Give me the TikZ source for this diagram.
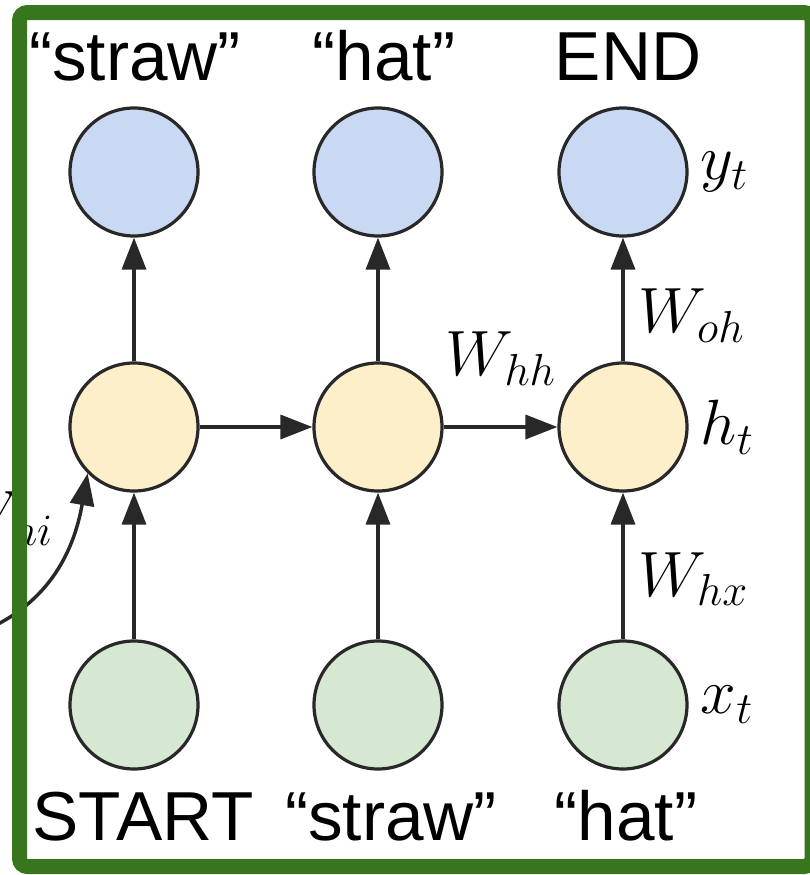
\RequirePackage{fix-cm}
\documentclass[tikz,border=0pt]{standalone}
\usepackage{fontspec}
\setsansfont{Liberation Sans}
\usetikzlibrary{arrows.meta}

\definecolor{outblue}{RGB}{201,216,243}
\definecolor{hidyellow}{RGB}{254,239,203}
\definecolor{ingreen}{RGB}{214,232,210}
\definecolor{framegreen}{RGB}{56,118,29}
\definecolor{rim}{RGB}{40,40,40}

\tikzset{
  unit/.style={circle, draw=rim, line width=2.4pt, minimum size=96pt, inner sep=0pt},
  word/.style={font=\sffamily\fontsize{52}{60}\selectfont, inner sep=0pt, anchor=base},
  mlabel/.style={font=\fontsize{48}{58}\selectfont, inner sep=0pt},
  conn/.style={-{Triangle[length=24pt,width=18pt]}, line width=2.6pt, draw=rim},
}

\begin{document}
\begin{tikzpicture}[x=0.75pt, y=-0.75pt]
  \useasboundingbox (0,0) rectangle (810,875);
  \fill[white] (0,0) rectangle (810,875);

  % Nodes
  \node[unit, fill=outblue] at (134,172) (y1) {};
  \node[unit, fill=outblue] at (378,172) (y2) {};
  \node[unit, fill=outblue] at (623,172) (y3) {};

  \node[unit, fill=hidyellow] at (134,427) (h1) {};
  \node[unit, fill=hidyellow] at (378,427) (h2) {};
  \node[unit, fill=hidyellow] at (623,427) (h3) {};

  \node[unit, fill=ingreen] at (134,705) (x1) {};
  \node[unit, fill=ingreen] at (378,705) (x2) {};
  \node[unit, fill=ingreen] at (623,705) (x3) {};

  % Words
  \node[word] at (135,80) (out1) {“straw”};
  \node[word] at (384,80) (out2) {“hat”};
  \node[word] at (628,80) (out3) {END};

  \node[word] at (143,840) (in1) {START};
  \node[word] at (391,840) (in2) {“straw”};
  \node[word] at (626,840) (in3) {“hat”};

  % Labels
  \node[mlabel, anchor=west] at ([xshift=9pt]y3.east) (ylab) {$y_t$};
  \node[mlabel, anchor=west] at ([xshift=9pt]h3.east) (hlab) {$h_t$};
  \node[mlabel, anchor=west] at ([xshift=9pt]x3.east) (xlab) {$x_t$};

  % Connectors
  \draw[conn] (x1) -- (h1);
  \draw[conn] (x2) -- (h2);
  \draw[conn] (x3) -- node[mlabel, right=10pt, pos=0.41] {$W_{hx}$} (h3);

  \draw[conn] (h1) -- (y1);
  \draw[conn] (h2) -- (y2);
  \draw[conn] (h3) -- node[mlabel, right=10pt, pos=0.37] {$W_{oh}$} (y3);

  \draw[conn] (h1) -- (h2);
  \draw[conn] (h2) -- node[mlabel, above=30pt] {$W_{hh}$} (h3);

  \coordinate (hin) at (-10,628);
  \draw[conn] (hin) to[out=25, in=-100] node[mlabel, left=8pt, pos=0.7, xshift=-6pt, yshift=10pt] {$W_{hi}$} (h1.225);

  % Frame
  \draw[framegreen, line width=11.25pt, rounded corners=6pt] (19.5,12.5) rectangle (812,866.5);
\end{tikzpicture}
\end{document}
